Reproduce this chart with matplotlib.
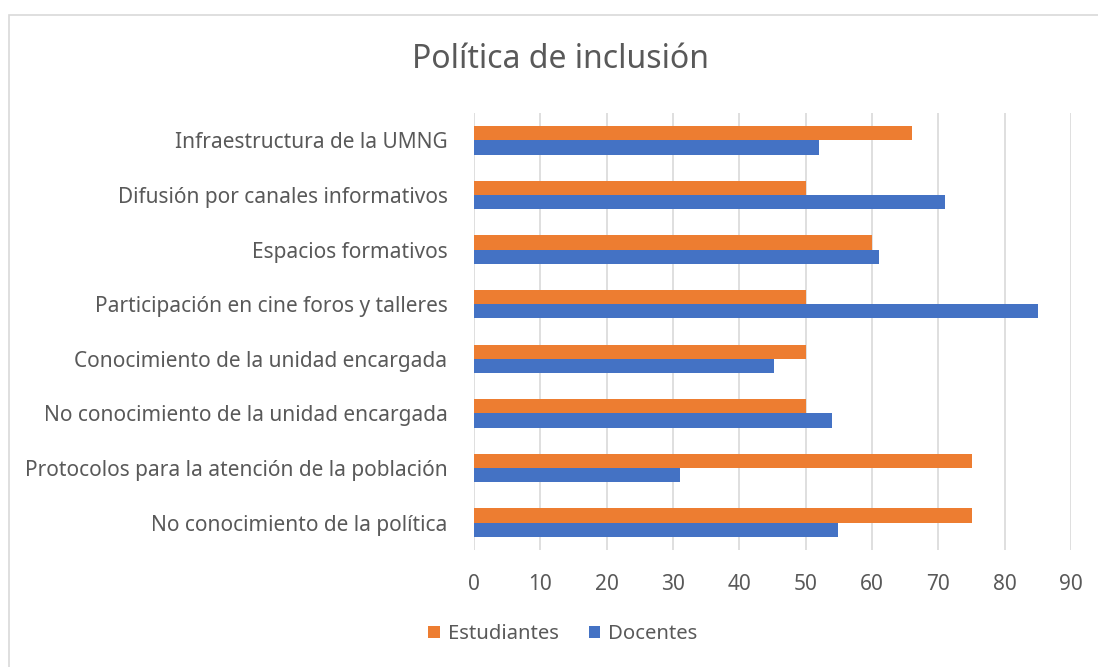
import numpy as np
import matplotlib
matplotlib.use('Agg')
import matplotlib.pyplot as plt
from matplotlib.patches import Rectangle

# categories listed bottom -> top, as barh draws them
categorias = ['No conocimiento de la política',
              'Protocolos para la atención de la población',
              'No conocimiento de la unidad encargada',
              'Conocimiento de la unidad encargada',
              'Participación en cine foros y talleres',
              'Espacios formativos',
              'Difusión por canales informativos',
              'Infraestructura de la UMNG']
estudiantes = [75, 75, 50, 50, 50, 60, 50, 66]
docentes = [54.8, 31, 54, 45.2, 85, 61, 71, 52]
ticks_x = [0, 10, 20, 30, 40, 50, 60, 70, 80, 90]

naranja = '#ED7D31'
azul = '#4472C4'
gris_txt = '#595959'
gris_grid = '#D9D9D9'

plt.rcParams['font.family'] = ['Noto Sans', 'DejaVu Sans']

fig = plt.figure(figsize=(10.98, 6.67), dpi=100)
ax = fig.add_axes([474/1098, 1-550/667, (1071-474)/1098, (550-113)/667])

# chart frame (only left and top edges fall inside the image)
fig.patches.append(Rectangle((8.5/1098, -0.5), 2, 1.5-14.5/667, transform=fig.transFigure,
                             fill=False, edgecolor=gris_grid, linewidth=1.2))

y = np.arange(len(categorias))
h = 0.262
ax.barh(y + h/2, estudiantes, height=h, color=naranja, label='Estudiantes', zorder=3)
ax.barh(y - h/2, docentes, height=h, color=azul, label='Docentes', zorder=3)

ax.set_xlim(0, 90)
ax.set_ylim(-0.5, len(categorias) - 0.5)
ax.set_xticks(ticks_x)
ax.set_yticks(y)
ax.set_yticklabels(categorias)
ax.grid(axis='x', color=gris_grid, linewidth=1.2, zorder=0)
for s in ax.spines.values():
    s.set_visible(False)
ax.tick_params(axis='both', length=0, colors=gris_txt, labelsize=15)
ax.tick_params(axis='y', pad=19)
ax.tick_params(axis='x', pad=17)

fig.text(561/1098, 1-59/667, 'Política de inclusión', ha='center', va='center',
         fontsize=23, color=gris_txt)

leg = fig.legend(loc='center', bbox_to_anchor=(563/1098, 1-634/667), ncol=2, frameon=False,
                 fontsize=14.6, handlelength=0.55, handleheight=0.55, handletextpad=0.4,
                 columnspacing=1.5)
for t in leg.get_texts():
    t.set_color(gris_txt)

fig.savefig('out.png', dpi=100, facecolor='white')
